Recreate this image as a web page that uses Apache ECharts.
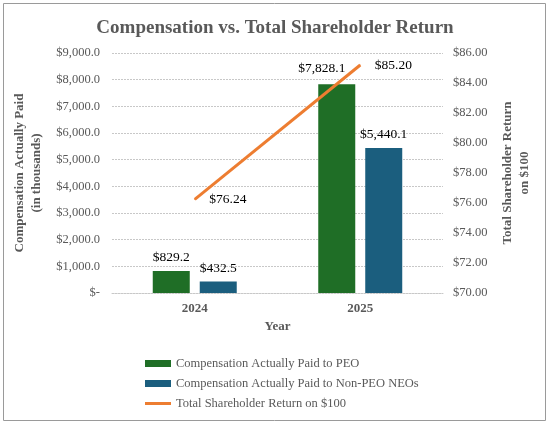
<!DOCTYPE html>
<html>
<head>
<meta charset="utf-8">
<script src="https://cdn.jsdelivr.net/npm/echarts@6/dist/echarts.min.js"></script>
<style>
  html, body { margin: 0; padding: 0; background: #fff; }
  #chart { width: 550px; height: 425px; }
</style>
</head>
<body>
<div id="chart"></div>
<script>
// data
var years = ['2024', '2025'];
var peoPaid = [829.2, 7828.1];      // Compensation Actually Paid to PEO
var neoPaid = [432.5, 5440.1];      // Compensation Actually Paid to Non-PEO NEOs
var tsr = [76.24, 85.20];           // Total Shareholder Return on $100

var serif = '"Liberation Serif", "Times New Roman", serif';
var grey = '#595959';

function money(v, d) {
  if (v === 0) return '$-';
  return '$' + v.toLocaleString('en-US', {minimumFractionDigits: d, maximumFractionDigits: d});
}

var chart = echarts.init(document.getElementById('chart'));

var option = {
  animation: false,
  title: {
    text: 'Compensation vs. Total Shareholder Return',
    left: 'center',
    top: 14,
    textStyle: { fontFamily: serif, fontSize: 19, fontWeight: 'bold', color: grey }
  },
  legend: {
    orient: 'vertical',
    left: 140,
    top: 352,
    itemGap: 7,
    itemWidth: 26,
    itemHeight: 7,
    textStyle: { fontFamily: serif, fontSize: 12.5, color: grey },
    data: [
      { name: 'Compensation Actually Paid to PEO', icon: 'rect' },
      { name: 'Compensation Actually Paid to Non-PEO NEOs', icon: 'rect' },
      { name: 'Total Shareholder Return on $100', icon: 'path://M0,2h26v3h-26z' }
    ]
  },
  graphic: [{
    type: 'rect',
    shape: { x: 3.5, y: 3.5, width: 542, height: 417 },
    style: { fill: 'none', stroke: '#9a9a9a', lineWidth: 1 },
    silent: true
  }],
  grid: { left: 112, right: 107, top: 53, bottom: 132 },
  xAxis: {
    type: 'category',
    data: years,
    name: 'Year',
    nameLocation: 'middle',
    nameGap: 27,
    nameTextStyle: { fontFamily: serif, fontSize: 13, fontWeight: 'bold', color: grey },
    axisLine: { show: true, lineStyle: { color: '#c8c8c8', type: [2, 1] } },
    axisTick: { show: false },
    axisLabel: { fontFamily: serif, fontSize: 13, fontWeight: 'bold', color: grey, margin: 9 }
  },
  yAxis: [{
    type: 'value',
    min: 0, max: 9000, interval: 1000,
    name: 'Compensation Actually Paid\n(in thousands)',
    nameLocation: 'middle',
    nameGap: 62,
    nameTextStyle: { fontFamily: serif, fontSize: 13, fontWeight: 'bold', color: grey, lineHeight: 17 },
    axisLine: { show: false },
    axisTick: { show: false },
    splitLine: { lineStyle: { color: '#c8c8c8', type: [2, 1] } },
    axisLabel: {
      fontFamily: serif, fontSize: 12.5, color: grey, margin: 12,
      formatter: function (v) { return money(v, 1); }
    }
  }, {
    type: 'value',
    position: 'right',
    min: 70, max: 86, interval: 2,
    name: 'Total Shareholder Return\non $100',
    nameLocation: 'middle',
    nameRotate: 90,
    nameGap: 56,
    nameTextStyle: { fontFamily: serif, fontSize: 13, fontWeight: 'bold', color: grey, lineHeight: 17 },
    axisLine: { show: false },
    axisTick: { show: false },
    splitLine: { show: false },
    axisLabel: {
      fontFamily: serif, fontSize: 12.5, color: grey, margin: 10,
      formatter: function (v) { return '$' + v.toFixed(2); }
    }
  }],
  series: [{
    name: 'Compensation Actually Paid to PEO',
    type: 'bar',
    barWidth: 37,
    barGap: '27%',
    itemStyle: { color: '#1f6e26' },
    label: {
      show: true, position: 'top', distance: 6,
      fontFamily: serif, fontSize: 13.5, color: '#000',
      formatter: function (p) { return money(p.value, 1); }
    },
    labelLayout: function (p) {
      if (p.dataIndex === 1) return { dx: -15, dy: -3 };
      return {};
    },
    data: peoPaid
  }, {
    name: 'Compensation Actually Paid to Non-PEO NEOs',
    type: 'bar',
    barWidth: 37,
    itemStyle: { color: '#1b5e7e' },
    label: {
      show: true, position: 'top', distance: 6,
      fontFamily: serif, fontSize: 13.5, color: '#000',
      formatter: function (p) { return money(p.value, 1); }
    },
    data: neoPaid
  }, {
    name: 'Total Shareholder Return on $100',
    type: 'line',
    yAxisIndex: 1,
    symbol: 'circle',
    symbolSize: 1,
    showSymbol: true,
    lineStyle: { color: '#ed7d31', width: 3 },
    itemStyle: { color: '#ed7d31' },
    label: {
      show: true, position: 'right', distance: 14,
      fontFamily: serif, fontSize: 13.5, color: '#000',
      formatter: function (p) { return '$' + p.value.toFixed(2); }
    },
    data: tsr
  }]
};

chart.setOption(option);
</script>
</body>
</html>
